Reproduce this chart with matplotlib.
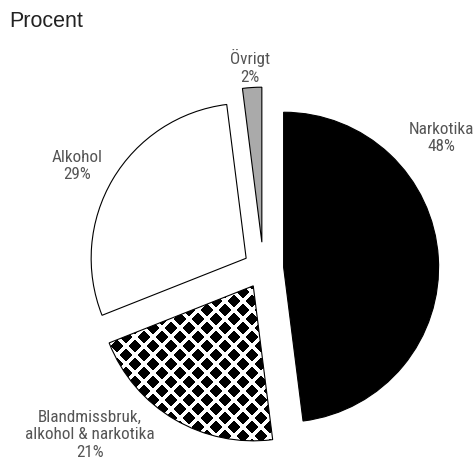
import numpy as np
import matplotlib
matplotlib.use("Agg")
import matplotlib.pyplot as plt

# data
categories = ["Narkotika", "Blandmissbruk,\nalkohol & narkotika", "Alkohol", "Övrigt"]
values = [48, 21, 29, 2]
explode = [0.13, 0.13, 0.13, 0.17]
colors = ["black", "white", "white", "#aaaaaa"]

W, H = 473, 464
fig = plt.figure(figsize=(W / 100, H / 100), dpi=100)
ax = fig.add_axes([0, 0, 1, 1])

cx, cy, r = 263.5, H - 269.5, 155
wedges, _ = ax.pie(values, explode=[e * r for e in explode], colors=colors, startangle=90,
                   counterclock=False, radius=r, center=(cx, cy), frame=True,
                   wedgeprops=dict(edgecolor="black", linewidth=0.8))
ax.set_xlim(0, W)
ax.set_ylim(0, H)
ax.set_aspect("equal")
ax.axis("off")

# star-diamond pattern for the mixed-use slice, clipped to its wedge
period = 18
p = 0.8
yy, xx = np.mgrid[0:H, 0:W] + 0.5
u = (xx % period) - period / 2
v = (yy % period) - period / 2
u2 = ((xx + period / 2) % period) - period / 2
v2 = ((yy + period / 2) % period) - period / 2
d = np.minimum(np.abs(u) ** p + np.abs(v) ** p, np.abs(u2) ** p + np.abs(v2) ** p)
pattern = np.where(d < 7.2 ** p, 0.0, 1.0)
img = ax.imshow(pattern, cmap="gray", vmin=0, vmax=1, extent=(0, W, 0, H),
                origin="lower", interpolation="nearest", zorder=1.5)
img.set_clip_path(wedges[1])
wedges[1].set_facecolor("none")
wedges[1].set_zorder(2)

lab_font = dict(family=["Roboto Condensed", "DejaVu Sans"], fontsize=12.3,
                color="#555555", ha="center", va="center", multialignment="center",
                linespacing=1.2)
label_pos = [(441, H - 138), (90, H - 435), (77, H - 166), (250, H - 67)]
for name, val, (lx, ly) in zip(categories, values, label_pos):
    ax.text(lx, ly, f"{name}\n{val}%", **lab_font)

ax.text(9, H - 27, "Procent", family=["Liberation Sans", "DejaVu Sans"],
        fontsize=15.5, color="#222222", ha="left", va="baseline")

fig.savefig("out.png", dpi=100)
